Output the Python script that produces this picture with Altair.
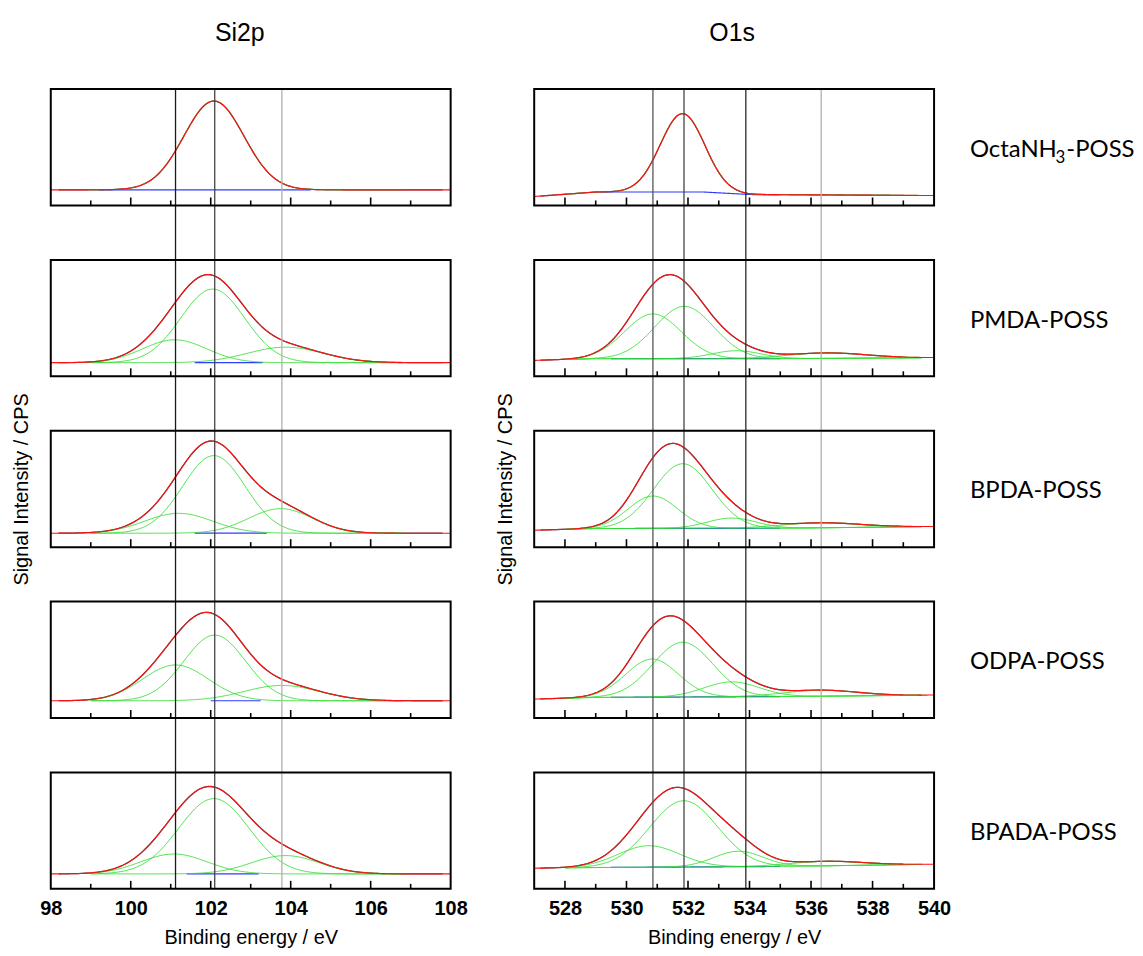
import numpy as np
import pandas as pd
import altair as alt

# ---------------- data ----------------
SAMPLES = ["OctaNH3-POSS", "PMDA-POSS", "BPDA-POSS", "ODPA-POSS", "BPADA-POSS"]

# Si2p: flat background level per sample and fitted components (centre eV, height, sigma eV)
SI_RANGE = [98, 108]
SI_LABELS = [98, 100, 102, 104, 106, 108]
SI_BG_LEVEL = [15.7, 13.7, 14.0, 17.3, 15.0]
SI_PEAKS = [
    [(102.08, 89.3, 0.75)],
    [(102.05, 74.0, 0.80), (101.10, 23.0, 0.80), (103.87, 15.6, 0.95)],
    [(102.08, 78.0, 0.78), (101.20, 20.0, 0.85), (103.75, 24.7, 0.80)],
    [(102.10, 66.0, 0.77), (101.12, 36.0, 0.82), (103.78, 15.4, 0.95)],
    [(102.08, 75.7, 0.88), (101.08, 20.0, 0.83), (103.87, 18.4, 0.85)],
]
SI_BLUE = [(99.2, 104.5), (101.6, 103.3), (101.6, 103.4), (102.0, 103.25), (101.4, 103.2)]
SI_FIT = (99.0, 106.8)
SI_RAW = (98.2, 107.8)
SI_LINES = [101.12, 102.10, 103.78]
SI_LINE_COLORS = ["#1a1a1a", "#444444", "#b0b0b0"]

# O1s: background break points (eV, level) and components
O_RANGE = [527, 540]
O_LABELS = [528, 530, 532, 534, 536, 538, 540]
O_BG_X = [
    [527, 529, 532.5, 534, 540],
    [527, 529, 535, 540],
    [527, 529, 535, 540],
    [527, 529, 535, 540],
    [527, 529, 535, 540],
]
O_BG_Y = [
    [9.0, 13.5, 13.5, 11.0, 10.0],
    [16.0, 17.7, 17.7, 18.7],
    [17.0, 18.7, 19.0, 20.7],
    [19.0, 20.7, 21.5, 23.0],
    [20.7, 21.4, 22.5, 24.7],
]
O_PEAKS = [
    [(531.82, 78.8, 0.72)],
    [(530.86, 45.0, 0.92), (531.88, 52.6, 0.96), (533.58, 8.0, 0.80), (536.50, 5.5, 1.30)],
    [(530.86, 32.6, 0.80), (531.83, 65.0, 0.95), (533.42, 10.3, 0.80), (536.30, 5.0, 1.30)],
    [(530.83, 38.3, 0.85), (531.83, 55.0, 0.97), (533.42, 15.0, 0.90), (536.30, 6.0, 1.20)],
    [(530.72, 21.6, 1.00), (531.86, 66.6, 1.10), (533.64, 15.5, 0.80), (536.50, 4.5, 1.20)],
]
O_BLUE = [(529.1, 535.0), (529.5, 535.0), (529.5, 535.0), (529.5, 535.0), (529.5, 535.0)]
O_FIT = (528.0, 539.6)
O_RAW = (527.2, 539.0)
O_LINES = [530.86, 531.87, 533.88, 536.33]
O_LINE_COLORS = ["#555555", "#444444", "#2a2a2a", "#b0b0b0"]

# ---------------- layout (pixels) ----------------
PLOT_H = 804
PANEL_H = 117
PANEL_STEP = 171.75
MAJOR_LEN = 8
MINOR_LEN = 5
FONT_AX = "Liberation Sans"
FONT_LAB = "Lato"


def panel_bottom(i):
    return PLOT_H - PANEL_H - PANEL_STEP * i


def curves(lo, hi, bg_fn, peaks, blue, fit, raw):
    rows = []
    xs = np.round(np.arange(lo, hi + 1e-9, 0.05), 3)
    for i in range(len(SAMPLES)):
        b0 = panel_bottom(i)
        bg = bg_fn(i, xs)
        comps = [h * np.exp(-((xs - c) ** 2) / (2 * s * s)) for c, h, s in peaks[i]]
        env = bg + np.sum(comps, axis=0)
        m = (xs >= raw[0]) & (xs <= raw[1])
        rows += [dict(x=x, y=y + b0, kind="raw", series=f"raw{i}") for x, y in zip(xs[m], env[m])]
        m = (xs >= blue[i][0]) & (xs <= blue[i][1])
        rows += [dict(x=x, y=y + b0, kind="bg", series=f"bg{i}") for x, y in zip(xs[m], bg[m])]
        m = (xs >= fit[0]) & (xs <= fit[1])
        for k, comp in enumerate(comps):
            yy = bg + comp
            rows += [dict(x=x, y=y + b0, kind="comp", series=f"c{i}_{k}") for x, y in zip(xs[m], yy[m])]
        rows += [dict(x=x, y=y + b0, kind="env", series=f"env{i}") for x, y in zip(xs, env)]
    return pd.DataFrame(rows)


def column(rng, labels, df, lines, line_colors, title, title_dx, with_names):
    lo, hi = rng
    X = alt.X("x:Q", scale=alt.Scale(domain=[lo, hi], nice=False, zero=False),
              axis=alt.Axis(values=labels, ticks=False, tickSize=0, domain=False, grid=False,
                            labelFlush=False, labelFont=FONT_AX, labelFontSize=20,
                            labelFontWeight="bold", labelColor="black", labelPadding=10,
                            title="Binding energy / eV", titleFont=FONT_AX, titleFontSize=20,
                            titleFontWeight="normal", titleColor="black", titlePadding=9))
    Y = alt.Y("y:Q", scale=alt.Scale(domain=[0, PLOT_H], nice=False, zero=False),
              axis=alt.Axis(labels=False, ticks=False, tickSize=0, domain=False, grid=False,
                            title="Signal Intensity / CPS", titleFont=FONT_AX, titleFontSize=20,
                            titleFontWeight="normal", titleColor="black", titlePadding=19))

    base = alt.Chart(df)
    raw = base.transform_filter("datum.kind == 'raw'").mark_line(
        color="black", strokeWidth=1.3, opacity=0.7).encode(x=X, y=Y, detail="series:N")
    bgl = base.transform_filter("datum.kind == 'bg'").mark_line(
        color="#2f3cff", strokeWidth=1.2).encode(x=X, y=Y, detail="series:N")
    comp = base.transform_filter("datum.kind == 'comp'").mark_line(
        color="#2ee02e", strokeWidth=1, opacity=0.85).encode(x=X, y=Y, detail="series:N")
    env = base.transform_filter("datum.kind == 'env'").mark_line(
        color="#ff1010", strokeWidth=1.1).encode(x=X, y=Y, detail="series:N")

    frames = pd.DataFrame([dict(x=lo, x2=hi, y=panel_bottom(i), y2=panel_bottom(i) + PANEL_H)
                           for i in range(len(SAMPLES))])
    frame = alt.Chart(frames).mark_rect(fillOpacity=0, stroke="black", strokeWidth=2).encode(
        x=X, x2="x2:Q", y=Y, y2="y2:Q")

    ticks = []
    for i in range(len(SAMPLES)):
        b0 = panel_bottom(i)
        for t in range(int(np.ceil(lo)), int(hi) + 1):
            if t in (lo, hi):
                continue
            ln = MAJOR_LEN if t % 2 == 0 else MINOR_LEN
            ticks.append(dict(x=t, y=b0, y2=b0 + ln))
    tick = alt.Chart(pd.DataFrame(ticks)).mark_rule(color="black", strokeWidth=1.6).encode(
        x=X, y=Y, y2="y2:Q")

    vl = pd.DataFrame(dict(x=lines, y=[0] * len(lines), y2=[PLOT_H] * len(lines), c=line_colors))
    vrule = alt.Chart(vl).mark_rule(strokeWidth=1.3).encode(
        x=X, y=Y, y2="y2:Q", color=alt.Color("c:N", scale=None))

    layers = [raw, bgl, comp, env, vrule, frame, tick]

    if with_names:
        names = pd.DataFrame([dict(y=panel_bottom(i) + 49, t=n) for i, n in enumerate(SAMPLES) if i > 0])
        txt = alt.Chart(names).mark_text(align="left", baseline="alphabetic", font=FONT_LAB,
                                          fontSize=24, color="black").encode(
            x=alt.value(438), y=Y, text="t:N")
        layers.append(txt)
        y0 = panel_bottom(0) + 49
        parts = pd.DataFrame([dict(y=y0, t="OctaNH")])
        p1 = alt.Chart(parts).mark_text(align="left", baseline="alphabetic", font=FONT_LAB,
                                        fontSize=24, color="black").encode(
            x=alt.value(438), y=Y, text="t:N")
        parts2 = pd.DataFrame([dict(y=y0, t="3")])
        p2 = alt.Chart(parts2).mark_text(align="left", baseline="alphabetic", font=FONT_LAB,
                                         fontSize=17, color="black", dy=6).encode(
            x=alt.value(524), y=Y, text="t:N")
        parts3 = pd.DataFrame([dict(y=y0, t="-POSS")])
        p3 = alt.Chart(parts3).mark_text(align="left", baseline="alphabetic", font=FONT_LAB,
                                         fontSize=24, color="black").encode(
            x=alt.value(535), y=Y, text="t:N")
        layers += [p1, p2, p3]

    return alt.layer(*layers).properties(
        width=402, height=PLOT_H,
        title=alt.TitleParams(title, font=FONT_AX, fontSize=25, fontWeight="normal",
                              color="black", anchor="middle", frame="group",
                              baseline="alphabetic", offset=22, dx=title_dx))


si_df = curves(SI_RANGE[0], SI_RANGE[1],
               lambda i, xs: np.full_like(xs, SI_BG_LEVEL[i], dtype=float),
               SI_PEAKS, SI_BLUE, SI_FIT, SI_RAW)
o_df = curves(O_RANGE[0], O_RANGE[1],
              lambda i, xs: np.interp(xs, O_BG_X[i], O_BG_Y[i]),
              O_PEAKS, O_BLUE, O_FIT, O_RAW)

left = column(SI_RANGE, SI_LABELS, si_df, SI_LINES, SI_LINE_COLORS, "Si2p", -11, False)
right = column(O_RANGE, O_LABELS, o_df, O_LINES, O_LINE_COLORS, "O1s", -2, True)

chart = alt.hconcat(left, right, spacing=28).properties(
    padding={"left": 4, "top": 11, "right": 0, "bottom": 0}
).configure_view(stroke=None)

chart.save("out.html", embed_options={"renderer": "svg", "actions": False})
